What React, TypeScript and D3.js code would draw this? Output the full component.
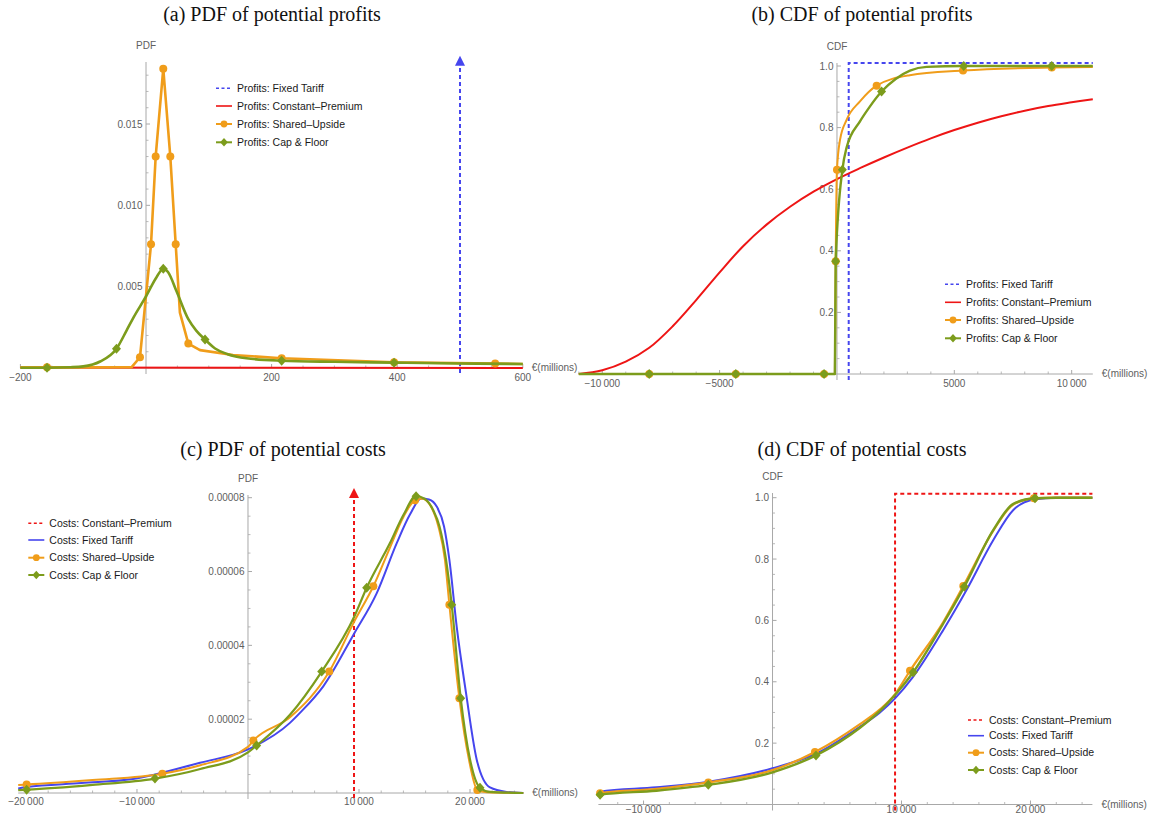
import React from 'react';
import * as d3 from 'd3';

type Pt = [number, number];

// ---------- (a) PDF of potential profits ----------
const profitPdfFixedDelta = { x: 500, top: 0.0192 };
const profitPdfConstant: Pt[] = [[-200, 0.00003], [200, 0.00002], [600, 0.0]];
const profitPdfShared: Pt[] = [
  [-200, 0.00004], [-157.6, 0.00004], [-22.8, 0.00005], [-9.6, 0.00066], [8, 0.0076], [15.4, 0.013],
  [27.5, 0.0184], [38.7, 0.013], [47.3, 0.0076], [54, 0.0034], [67.4, 0.0015], [86, 0.0011],
  [138.5, 0.0008], [216, 0.0006], [395, 0.00035], [556, 0.00027], [600, 0.00025],
];
const profitPdfSharedMarks = [-157.6, -9.6, 8, 15.4, 27.5, 38.7, 47.3, 67.4, 216, 395, 556];
const profitPdfCap: Pt[] = [
  [-200, 0.00002], [-157.6, 0.00002], [-120, 0.00005], [-100, 0.0001], [-73, 0.0004], [-47, 0.00118],
  [-31, 0.0023], [-20, 0.0031], [0, 0.0044], [17, 0.0056], [27.5, 0.0061], [35, 0.0059], [48.8, 0.0047],
  [67.4, 0.003], [80, 0.0023], [94, 0.00175], [110, 0.0012], [130, 0.00085], [160, 0.0006], [216, 0.00045],
  [300, 0.00038], [395, 0.00033], [500, 0.00028], [600, 0.00025],
];
const profitPdfCapMarks = [-157.6, -47, 27.5, 94, 216, 395];
const profitPdfXTicks = [-200, 200, 400, 600];
const profitPdfXLabels = ['\u2212200', '200', '400', '600'];
const profitPdfYTicks = [0.005, 0.01, 0.015];
const profitPdfYLabels = ['0.005', '0.010', '0.015'];
const profitLegend = ['Profits: Fixed Tariff', 'Profits: Constant\u2013Premium', 'Profits: Shared\u2013Upside', 'Profits: Cap & Floor'];

// ---------- (b) CDF of potential profits ----------
const profitCdfFixedStep = { x: 500, top: 1.01 };
const profitCdfConstant: Pt[] = [
  [-11000, 0.0], [-10000, 0.012], [-9000, 0.04], [-8000, 0.085], [-7000, 0.155], [-6000, 0.24],
  [-5000, 0.33], [-4000, 0.415], [-3000, 0.485], [-2000, 0.543], [-1000, 0.592], [0, 0.633],
  [1000, 0.669], [2000, 0.703], [3000, 0.735], [4000, 0.765], [5000, 0.792], [6000, 0.816],
  [7000, 0.837], [8000, 0.855], [9000, 0.87], [10000, 0.882], [10900, 0.892],
];
const profitCdfShared: Pt[] = [
  [-11000, 0], [-8000, 0], [-4310, 0], [-550, 0], [-90, 0], [-55, 0.366], [0, 0.663], [130, 0.76],
  [410, 0.825], [980, 0.885], [1690, 0.936], [3100, 0.97], [5370, 0.985], [9150, 0.995], [10900, 0.997],
];
const profitCdfSharedMarks = [-8000, -4310, -550, -55, 0, 1690, 5370, 9150];
const profitCdfCap: Pt[] = [
  [-11000, 0], [-8000, 0], [-4310, 0], [-550, 0], [-90, 0], [-55, 0.366], [230, 0.663], [410, 0.735],
  [980, 0.82], [1400, 0.868], [1900, 0.917], [2500, 0.958], [3110, 0.985], [3820, 0.997], [5400, 1.0],
  [9150, 1.0], [10900, 1.0],
];
const profitCdfCapMarks = [-8000, -4310, -550, -55, 230, 1900, 5400, 9150];
const profitCdfXTicks = [-10000, -5000, 5000, 10000];
const profitCdfXLabels = ['\u221210\u2009000', '\u22125000', '5000', '10\u2009000'];
const cdfYTicks = [0.2, 0.4, 0.6, 0.8, 1.0];
const cdfYLabels = ['0.2', '0.4', '0.6', '0.8', '1.0'];

// ---------- (c) PDF of potential costs ----------
const costPdfConstantDelta = { x: 9550, top: 0.0000826 };
const costPdfFixed: Pt[] = [
  [-20700, 0.0000012], [-19940, 0.0000016], [-15000, 0.0000027], [-10360, 0.0000038], [-4320, 0.0000082],
  [0, 0.0000118], [3780, 0.000019], [4680, 0.0000217], [6780, 0.0000289], [9580, 0.0000433],
  [11590, 0.0000541], [13400, 0.0000677], [14600, 0.0000755], [15600, 0.0000798], [16300, 0.0000795],
  [17000, 0.0000776], [17660, 0.0000722], [18140, 0.0000632], [18800, 0.0000451], [19640, 0.0000271],
  [20600, 0.0000091], [21800, 0.0000015], [23300, 0.0000003], [24800, 0],
];
const costPdfShared: Pt[] = [
  [-20700, 0.0000022], [-19940, 0.0000023], [-14000, 0.0000035], [-7720, 0.0000052], [-4300, 0.0000075],
  [0, 0.0000125], [480, 0.0000142], [3780, 0.0000205], [7320, 0.0000329], [9580, 0.0000465],
  [11290, 0.000056], [12790, 0.0000665], [14000, 0.0000748], [15050, 0.0000793], [15700, 0.0000797],
  [16400, 0.000078], [17150, 0.0000722], [17740, 0.0000632], [18140, 0.000051], [19040, 0.0000257],
  [19900, 0.0000091], [20660, 0.0000008], [21500, 0.0000002], [24800, 0],
];
const costPdfSharedMarks = [-19940, -7720, 480, 7320, 11290, 15050, 18140, 19040, 20660];
const costPdfCap: Pt[] = [
  [-20700, 0.0000008], [-19940, 0.0000009], [-14000, 0.0000022], [-8380, 0.0000039], [-4300, 0.0000065],
  [0, 0.000011], [780, 0.0000129], [3780, 0.0000212], [6640, 0.0000329], [9580, 0.0000478],
  [10690, 0.0000556], [12790, 0.0000677], [14000, 0.0000753], [15140, 0.0000804], [15900, 0.0000797],
  [16690, 0.0000766], [17250, 0.0000722], [17840, 0.0000632], [18350, 0.000051], [19160, 0.0000257],
  [20000, 0.0000091], [20900, 0.0000014], [21800, 0.0000003], [24800, 0],
];
const costPdfCapMarks = [-19940, -8380, 780, 6640, 10690, 15140, 18350, 19160, 20900];
const costPdfXTicks = [-20000, -10000, 10000, 20000];
const costPdfXLabels = ['\u221220\u2009000', '\u221210\u2009000', '10\u2009000', '20\u2009000'];
const costPdfYTicks = [0.00002, 0.00004, 0.00006, 0.00008];
const costPdfYLabels = ['0.00002', '0.00004', '0.00006', '0.00008'];
const costLegend = ['Costs: Constant\u2013Premium', 'Costs: Fixed Tariff', 'Costs: Shared\u2013Upside', 'Costs: Cap & Floor'];

// ---------- (d) CDF of potential costs ----------
const costCdfConstantStep = { x: 9500, top: 1.013 };
const costCdfFixed: Pt[] = [
  [-13500, 0.041], [-13370, 0.042], [-9000, 0.056], [-4840, 0.075], [0, 0.118], [3430, 0.167],
  [6780, 0.254], [8330, 0.3], [9500, 0.346], [10910, 0.417], [13240, 0.569], [15050, 0.7],
  [17120, 0.862], [18670, 0.96], [20350, 0.995], [22000, 1.0], [24800, 1.0],
];
const costCdfShared: Pt[] = [
  [-13500, 0.036], [-13370, 0.037], [-9000, 0.051], [-4980, 0.072], [0, 0.112], [3290, 0.171],
  [6780, 0.262], [8330, 0.31], [9500, 0.36], [10660, 0.436], [13240, 0.595], [14790, 0.712],
  [17120, 0.893], [18670, 0.978], [20270, 0.998], [22000, 1.0], [24800, 1.0],
];
const costCdfSharedMarks = [-13370, -4980, 3290, 10660, 14790, 20270];
const costCdfCap: Pt[] = [
  [-13500, 0.031], [-13370, 0.032], [-9000, 0.045], [-4980, 0.064], [0, 0.105], [3370, 0.16],
  [6780, 0.25], [8330, 0.305], [9500, 0.357], [10910, 0.431], [13240, 0.59], [14870, 0.71],
  [17120, 0.895], [18670, 0.98], [20350, 0.998], [22000, 1.0], [24800, 1.0],
];
const costCdfCapMarks = [-13370, -4980, 3370, 10910, 14870, 20350];
const costCdfXTicks = [-10000, 10000, 20000];
const costCdfXLabels = ['\u221210\u2009000', '10\u2009000', '20\u2009000'];

const FONT = '"Liberation Sans", Arial, Helvetica, sans-serif';
const BLUE = '#4646ee';
const RED = '#ee1515';
const ORANGE = '#f09d1a';
const GREEN = '#7c9c1c';
const AXIS = '#a8a8a8';
const TICKTXT = '#606060';

type Series = {
  data: Pt[];
  color: string;
  width: number;
  curve: d3.CurveFactory;
  marks?: number[];
  marker?: 'circle' | 'diamond';
};

type LegendItem = { label: string; color: string; kind: 'dash' | 'line' | 'circle' | 'diamond' };

type PanelCfg = {
  title: string;
  titleX: number;
  titleY: number;
  xDomain: [number, number];
  xRange: [number, number];
  y0: number;
  yRef: [number, number];
  yTop: number;
  yName: string;
  xTicks: number[];
  xLabels: string[];
  xLabelDy: number;
  xMinor: number;
  yTicks: number[];
  yLabels: string[];
  yMinor: number;
  series: Series[];
  delta?: { x: number; top: number; color: string };
  step?: { x: number; top: number; color: string };
  legend: { x: number; ys: number[]; items: LegendItem[] };
};

const diamond = 'M0,-5L4.5,0L0,5L-4.5,0Z';

function Marker({ kind, color, x, y, s = 1 }: { kind: 'circle' | 'diamond'; color: string; x: number; y: number; s?: number }) {
  if (kind === 'circle') return <circle cx={x} cy={y} r={4 * s} fill={color} />;
  return <path d={diamond} transform={`translate(${x},${y}) scale(${s})`} fill={color} />;
}

function Panel({ cfg }: { cfg: PanelCfg }) {
  const x = d3.scaleLinear().domain(cfg.xDomain).range(cfg.xRange);
  const y = d3.scaleLinear().domain([0, cfg.yRef[0]]).range([cfg.y0, cfg.yRef[1]]);
  const yTopVal = y.invert(cfg.yTop);
  const xMinorTicks = d3.range(Math.ceil(cfg.xDomain[0] / cfg.xMinor) * cfg.xMinor, cfg.xDomain[1] + 1e-9, cfg.xMinor)
    .filter((v) => Math.abs(v) > 1e-9 && !cfg.xTicks.includes(v));
  const yMinorTicks = d3.range(cfg.yMinor, yTopVal, cfg.yMinor)
    .filter((v) => !cfg.yTicks.some((t) => Math.abs(t - v) < cfg.yMinor / 10));
  const ax = x(0);
  const ay = y(0);

  return (
    <g>
      <text x={cfg.titleX} y={cfg.titleY} textAnchor="middle" fontFamily='"Liberation Serif", "Times New Roman", serif' fontSize={20} fill="#111">
        {cfg.title}
      </text>
      {/* axes */}
      <line x1={cfg.xRange[0]} x2={cfg.xRange[1]} y1={ay} y2={ay} stroke={AXIS} strokeWidth={1} />
      <line x1={ax} x2={ax} y1={ay + 6} y2={cfg.yTop} stroke={AXIS} strokeWidth={1} />
      {cfg.xTicks.map((t, i) => (
        <g key={'xt' + i}>
          <line x1={x(t)} x2={x(t)} y1={ay} y2={ay - 4} stroke={AXIS} />
          <text x={x(t)} y={ay + cfg.xLabelDy} textAnchor="middle" fontFamily={FONT} fontSize={10} fill={TICKTXT}>{cfg.xLabels[i]}</text>
        </g>
      ))}
      {xMinorTicks.map((t, i) => (
        <line key={'xm' + i} x1={x(t)} x2={x(t)} y1={ay} y2={ay - 2.5} stroke={AXIS} strokeWidth={0.8} />
      ))}
      {cfg.yTicks.map((t, i) => (
        <g key={'yt' + i}>
          <line x1={ax} x2={ax + 4} y1={y(t)} y2={y(t)} stroke={AXIS} />
          <text x={ax - 3.5} y={y(t)} dy="0.35em" textAnchor="end" fontFamily={FONT} fontSize={10} fill={TICKTXT}>{cfg.yLabels[i]}</text>
        </g>
      ))}
      {yMinorTicks.map((t, i) => (
        <line key={'ym' + i} x1={ax} x2={ax + 2.5} y1={y(t)} y2={y(t)} stroke={AXIS} strokeWidth={0.8} />
      ))}
      <text x={ax} y={cfg.yTop - 13} textAnchor="middle" fontFamily={FONT} fontSize={10} fill={TICKTXT}>{cfg.yName}</text>
      <text x={cfg.xRange[1] + 9} y={ay} dy="0.33em" fontFamily={FONT} fontSize={10} fill={TICKTXT}>€(millions)</text>

      {/* dirac / step */}
      {cfg.delta && (
        <g>
          <line x1={x(cfg.delta.x)} x2={x(cfg.delta.x)} y1={ay + 5} y2={y(cfg.delta.top) + 8}
            stroke={cfg.delta.color} strokeWidth={2} strokeDasharray="4,3" />
          <path d={`M${x(cfg.delta.x)},${y(cfg.delta.top)}L${x(cfg.delta.x) + 5},${y(cfg.delta.top) + 10}L${x(cfg.delta.x) - 5},${y(cfg.delta.top) + 10}Z`}
            fill={cfg.delta.color} />
        </g>
      )}
      {cfg.step && (
        <path d={`M${x(cfg.step.x)},${ay + 6}L${x(cfg.step.x)},${y(cfg.step.top)}L${cfg.xRange[1]},${y(cfg.step.top)}`}
          fill="none" stroke={cfg.step.color} strokeWidth={2} strokeDasharray="4,3" />
      )}

      {/* series */}
      {cfg.series.map((s, i) => {
        const gen = d3.line<Pt>().x((d) => x(d[0])).y((d) => y(d[1])).curve(s.curve);
        const pts = (s.marks || []).map((m) => s.data.find((d) => d[0] === m)).filter(Boolean) as Pt[];
        return (
          <g key={'s' + i}>
            <path d={gen(s.data) || ''} fill="none" stroke={s.color} strokeWidth={s.width} strokeLinejoin="round" />
            {pts.map((p, j) => (
              <Marker key={j} kind={s.marker || 'circle'} color={s.color} x={x(p[0])} y={y(p[1])} />
            ))}
          </g>
        );
      })}

      {/* legend */}
      {cfg.legend.items.map((it, i) => {
        const ly = cfg.legend.ys[i];
        const lx = cfg.legend.x;
        return (
          <g key={'lg' + i}>
            <line x1={lx} x2={lx + 16} y1={ly} y2={ly} stroke={it.color}
              strokeWidth={it.kind === 'dash' ? 1.6 : it.kind === 'line' ? 1.6 : 2}
              strokeDasharray={it.kind === 'dash' ? '3,2.5' : undefined} />
            {(it.kind === 'circle' || it.kind === 'diamond') && (
              <Marker kind={it.kind} color={it.color} x={lx + 8} y={ly} s={0.85} />
            )}
            <text x={lx + 21} y={ly} dy="0.35em" fontFamily={FONT} fontSize={10.5} fill="#1a1a1a">{it.label}</text>
          </g>
        );
      })}
    </g>
  );
}

const profitItems: LegendItem[] = [
  { label: profitLegend[0], color: BLUE, kind: 'dash' },
  { label: profitLegend[1], color: RED, kind: 'line' },
  { label: profitLegend[2], color: ORANGE, kind: 'circle' },
  { label: profitLegend[3], color: GREEN, kind: 'diamond' },
];
const costItems: LegendItem[] = [
  { label: costLegend[0], color: RED, kind: 'dash' },
  { label: costLegend[1], color: BLUE, kind: 'line' },
  { label: costLegend[2], color: ORANGE, kind: 'circle' },
  { label: costLegend[3], color: GREEN, kind: 'diamond' },
];

const smooth = d3.curveCatmullRom.alpha(0.5);

const panels: PanelCfg[] = [
  {
    title: '(a) PDF of potential profits', titleX: 272, titleY: 21,
    xDomain: [-200, 600], xRange: [20.4, 522.8], y0: 368, yRef: [0.015, 124], yTop: 62, yName: 'PDF',
    xTicks: profitPdfXTicks, xLabels: profitPdfXLabels, xLabelDy: 12.5, xMinor: 50,
    yTicks: profitPdfYTicks, yLabels: profitPdfYLabels, yMinor: 0.001,
    delta: { ...profitPdfFixedDelta, color: BLUE },
    series: [
      { data: profitPdfConstant, color: RED, width: 2, curve: d3.curveLinear },
      { data: profitPdfShared, color: ORANGE, width: 2.6, curve: d3.curveLinear, marks: profitPdfSharedMarks, marker: 'circle' },
      { data: profitPdfCap, color: GREEN, width: 2.6, curve: d3.curveMonotoneX, marks: profitPdfCapMarks, marker: 'diamond' },
    ],
    legend: { x: 216, ys: [88.3, 106, 124, 142.3], items: profitItems },
  },
  {
    title: '(b) CDF of potential profits', titleX: 862, titleY: 21,
    xDomain: [-11000, 10900], xRange: [578.8, 1092.8], y0: 374, yRef: [1, 66], yTop: 63, yName: 'CDF',
    xTicks: profitCdfXTicks, xLabels: profitCdfXLabels, xLabelDy: 12.5, xMinor: 1000,
    yTicks: cdfYTicks, yLabels: cdfYLabels, yMinor: 0.05,
    step: { ...profitCdfFixedStep, color: BLUE },
    series: [
      { data: profitCdfConstant, color: RED, width: 2, curve: smooth },
      { data: profitCdfShared, color: ORANGE, width: 2, curve: d3.curveMonotoneX, marks: profitCdfSharedMarks, marker: 'circle' },
      { data: profitCdfCap, color: GREEN, width: 2.4, curve: d3.curveMonotoneX, marks: profitCdfCapMarks, marker: 'diamond' },
    ],
    legend: { x: 945, ys: [284.3, 302.3, 320, 338.3], items: profitItems },
  },
  {
    title: '(c) PDF of potential costs', titleX: 283, titleY: 456,
    xDomain: [-20700, 24800], xRange: [18.2, 523.3], y0: 793, yRef: [0.00008, 497.7], yTop: 495, yName: 'PDF',
    xTicks: costPdfXTicks, xLabels: costPdfXLabels, xLabelDy: 11.5, xMinor: 2000,
    yTicks: costPdfYTicks, yLabels: costPdfYLabels, yMinor: 0.000005,
    delta: { ...costPdfConstantDelta, color: RED },
    series: [
      { data: costPdfFixed, color: BLUE, width: 2, curve: d3.curveMonotoneX },
      { data: costPdfShared, color: ORANGE, width: 2, curve: d3.curveMonotoneX, marks: costPdfSharedMarks, marker: 'circle' },
      { data: costPdfCap, color: GREEN, width: 2.2, curve: d3.curveMonotoneX, marks: costPdfCapMarks, marker: 'diamond' },
    ],
    legend: { x: 28.3, ys: [523.3, 540, 557.7, 575], items: costItems },
  },
  {
    title: '(d) CDF of potential costs', titleX: 862, titleY: 456,
    xDomain: [-13500, 24800], xRange: [598.4, 1092.4], y0: 804.5, yRef: [1, 497.7], yTop: 493, yName: 'CDF',
    xTicks: costCdfXTicks, xLabels: costCdfXLabels, xLabelDy: 8.5, xMinor: 2000,
    yTicks: cdfYTicks, yLabels: cdfYLabels, yMinor: 0.05,
    step: { ...costCdfConstantStep, color: RED },
    series: [
      { data: costCdfFixed, color: BLUE, width: 2, curve: d3.curveMonotoneX },
      { data: costCdfShared, color: ORANGE, width: 2.2, curve: d3.curveMonotoneX, marks: costCdfSharedMarks, marker: 'circle' },
      { data: costCdfCap, color: GREEN, width: 2.4, curve: d3.curveMonotoneX, marks: costCdfCapMarks, marker: 'diamond' },
    ],
    legend: { x: 968, ys: [720, 735.7, 752.7, 770], items: costItems },
  },
];

export default function App() {
  return (
    <svg width={1153} height={817} style={{ position: 'absolute', left: 0, top: 0, background: '#fff' }}>
      <rect width={1153} height={817} fill="#fff" />
      {panels.map((p, i) => <Panel key={i} cfg={p} />)}
    </svg>
  );
}
